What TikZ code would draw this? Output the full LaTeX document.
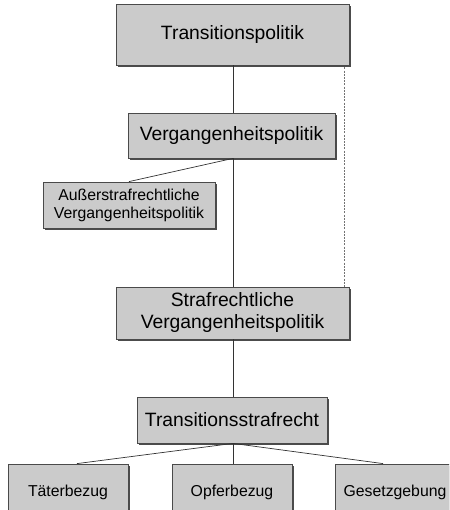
\documentclass[tikz,border=0pt]{standalone}
\usepackage{fontspec}
\setmainfont{Liberation Sans}
\usetikzlibrary{shadows}
\definecolor{boxfill}{HTML}{CBCBCB}
\definecolor{boxline}{HTML}{4A4A4A}
\definecolor{linkcol}{HTML}{333333}
\begin{document}
\begin{tikzpicture}[x=1pt,y=1pt,
  box/.style={draw=boxline, line width=0.8pt, fill=boxfill, align=center,
    inner sep=0pt, text=black,
    drop shadow={shadow xshift=1.6pt, shadow yshift=-2pt, fill=black!70, opacity=1}},
  big/.style={font=\fontsize{19.3}{22}\selectfont},
  small/.style={font=\fontsize{15.8}{18}\selectfont},
  link/.style={draw=linkcol, line width=0.7pt},
  dotlink/.style={draw=black!55, line width=1pt, dash pattern=on 2pt off 1.2pt}]
\useasboundingbox (0,0) rectangle (449,510);
\begin{scope}
\clip (0,0) rectangle (449,510);
% main hierarchy
\node[box, big, minimum width=233, minimum height=61] (tp) at (232.5,475.5) {Transitionspolitik};
\node[box, big, minimum width=207, minimum height=45] (vp) at (231.5,374.5) {Vergangenheitspolitik};
\node[box, small, minimum width=172, minimum height=46] (avp) at (129,305) {Außerstrafrechtliche\\Vergangenheitspolitik};
\node[box, big, minimum width=233, minimum height=52] (svp) at (232.5,197) {Strafrechtliche\\Vergangenheitspolitik};
\node[box, big, minimum width=190, minimum height=46] (tsr) at (232,90) {Transitionsstrafrecht};
% bottom row, cut off by the lower edge
\node[box, small, minimum width=120, minimum height=60] (tb) at (68,16) {\raisebox{6pt}{Täterbezug}};
\node[box, small, minimum width=120, minimum height=60] (ob) at (232,16) {\raisebox{6pt}{Opferbezug}};
\node[box, small, minimum width=120, minimum height=60] (gg) at (395,16) {\raisebox{6pt}{Gesetzgebung}};
% connectors
\path[link] ([xshift=0.5pt]tp.south) -- ([xshift=1.5pt]vp.north);
\path[link] ([xshift=1.5pt]vp.south) -- ([xshift=0.5pt]svp.north);
\path[link] ([xshift=1.5pt]vp.south) -- (avp.north);
\path[link] ([xshift=0.5pt]svp.south) -- ([xshift=1pt]tsr.north);
\path[link] ([xshift=1pt]tsr.south) -- ([xshift=9pt]tb.north);
\path[link] ([xshift=1pt]tsr.south) -- ([xshift=1pt]ob.north);
\path[link] ([xshift=1pt]tsr.south) -- ([xshift=-12pt]gg.north);
\path[dotlink] ([xshift=-5pt,yshift=-2pt]tp.south east) -- ([xshift=-5pt]svp.north east);
\end{scope}
\end{tikzpicture}
\end{document}
